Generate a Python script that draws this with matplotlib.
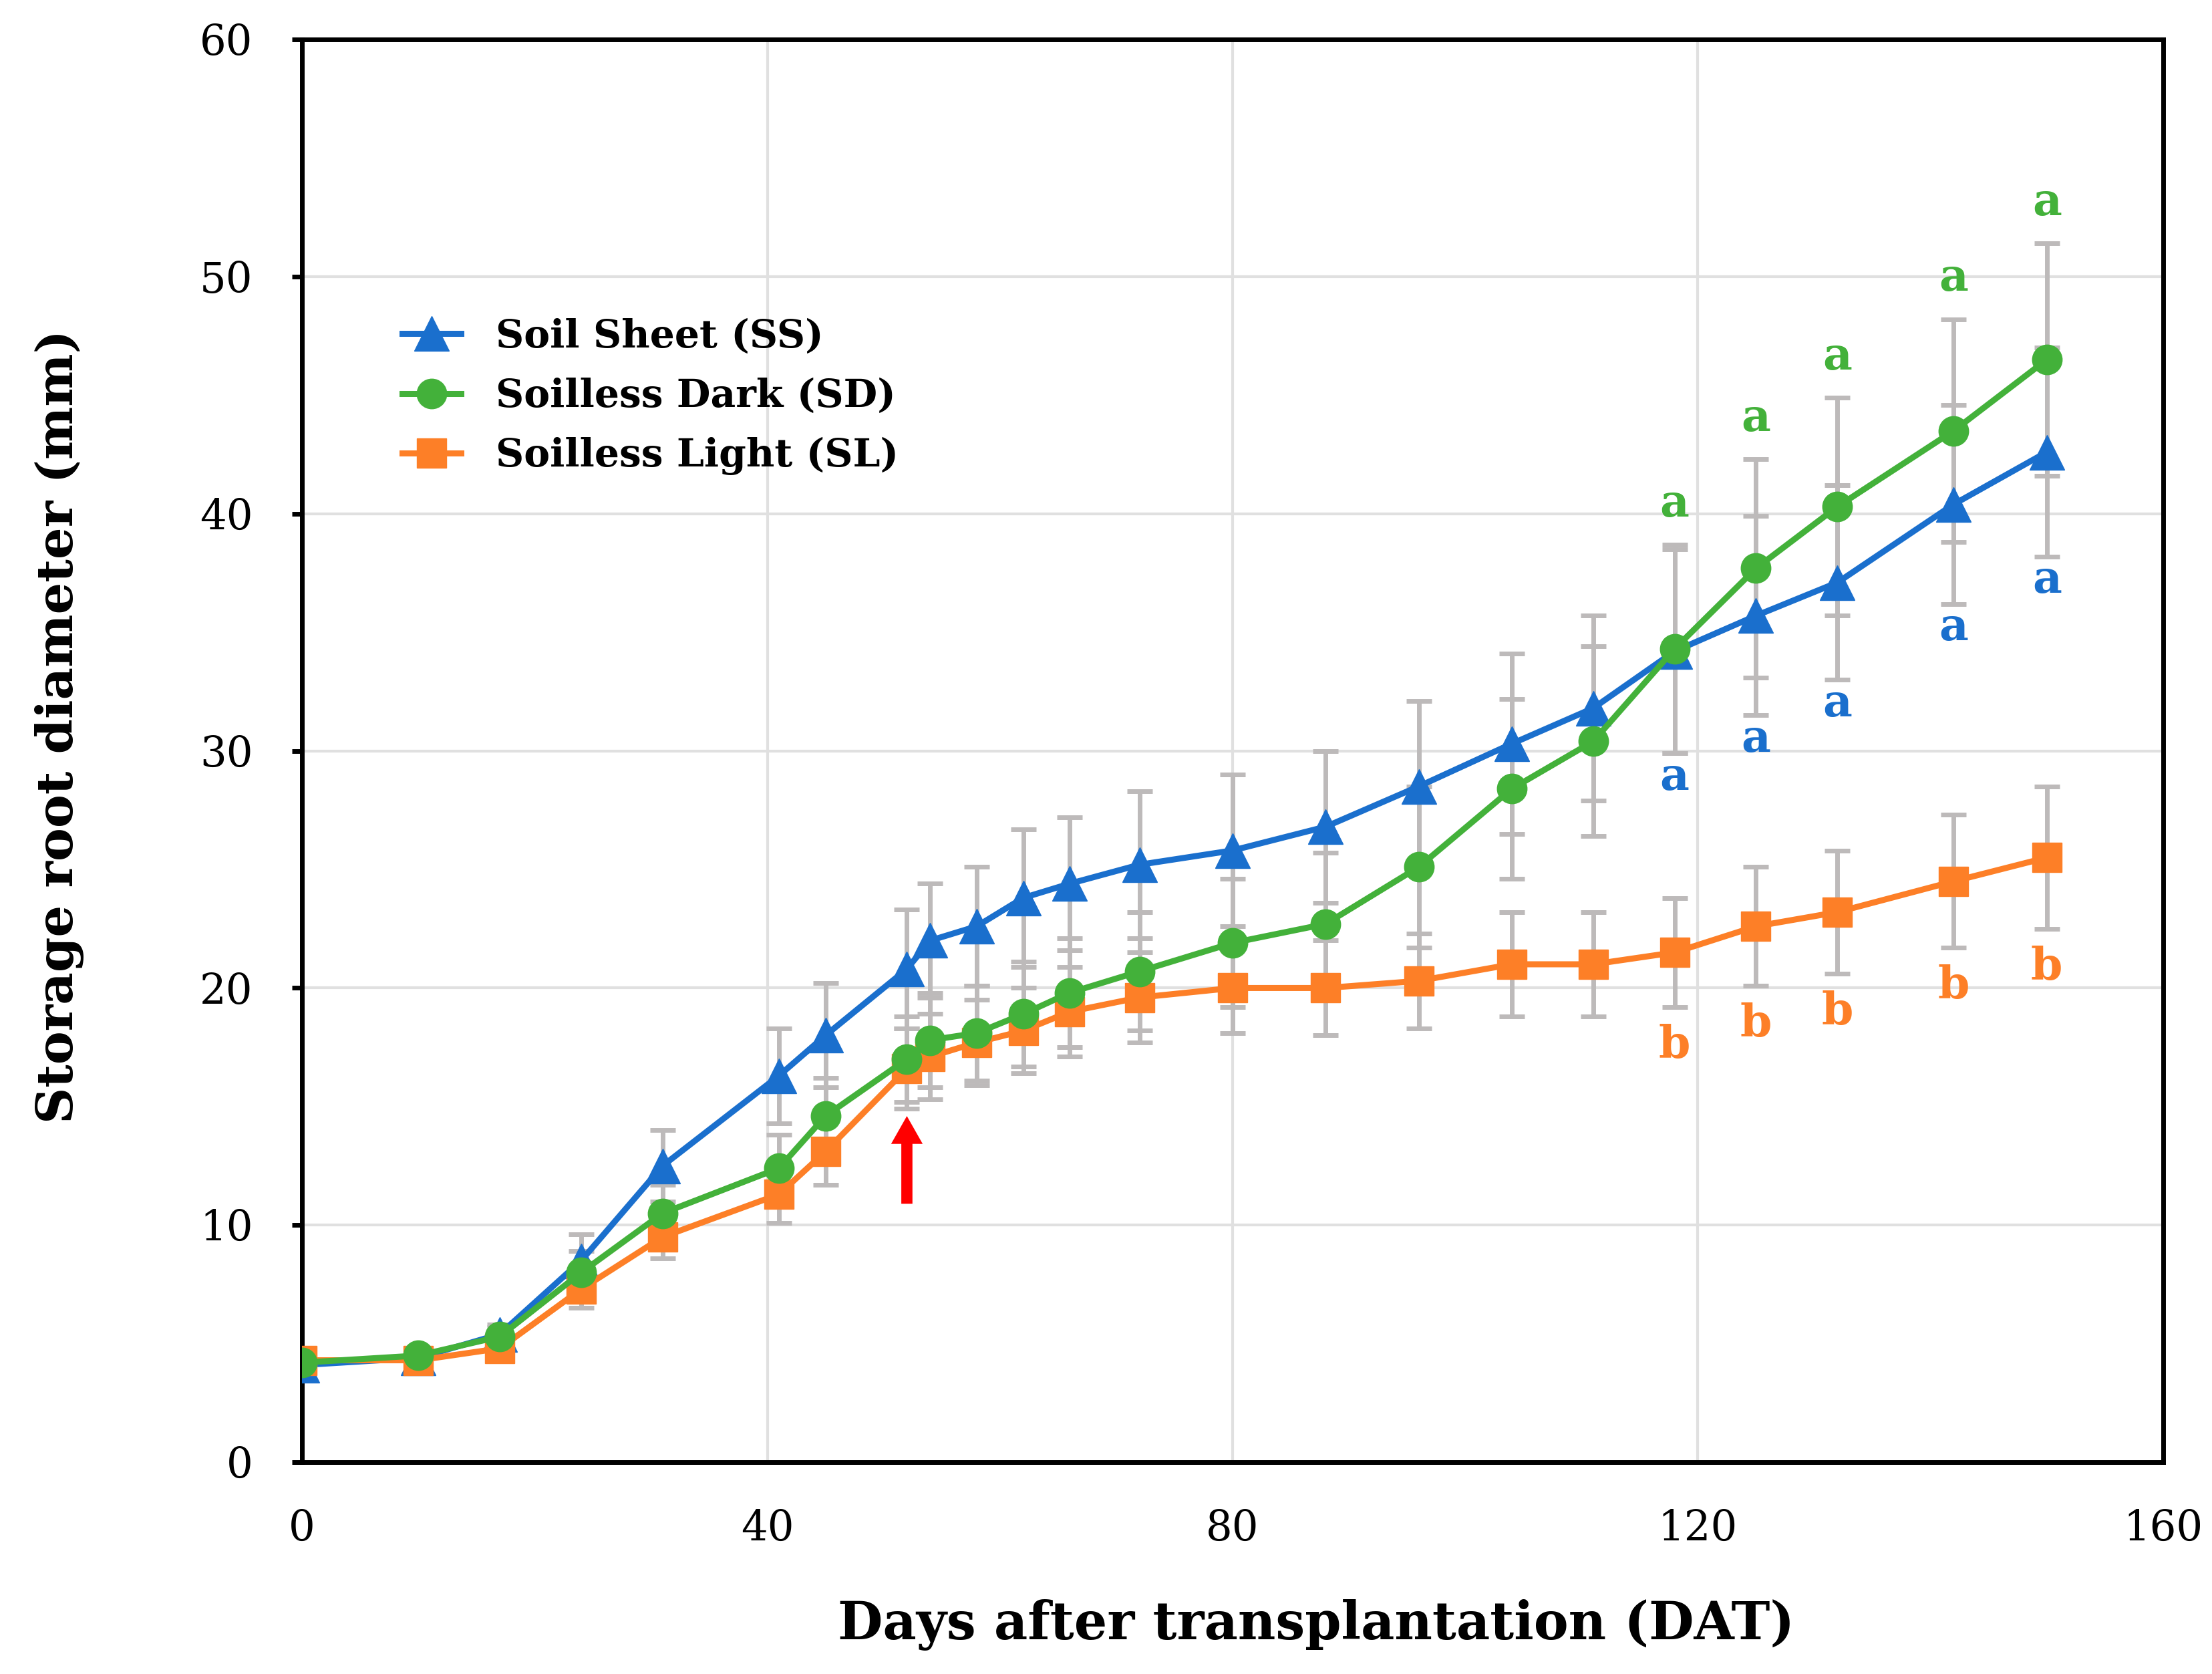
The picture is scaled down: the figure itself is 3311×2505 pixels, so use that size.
import numpy as np
import matplotlib
matplotlib.use("Agg")
import matplotlib.pyplot as plt

# days after transplantation
days = [0, 10, 17, 24, 31, 41, 45, 52, 54, 58, 62, 66, 72, 80, 88, 96, 104, 111, 118, 125, 132, 142, 150]

ss_mean = [4.1, 4.4, 5.4, 8.5, 12.5, 16.3, 18.0, 20.8, 22.0, 22.6, 23.8, 24.4, 25.2, 25.8, 26.8, 28.5,
           30.3, 31.8, 34.2, 35.7, 37.1, 40.4, 42.6]
ss_err = [0.3, 0.3, 0.4, 1.1, 1.5, 2.0, 2.2, 2.5, 2.4, 2.5, 2.9, 2.8, 3.1, 3.2, 3.2, 3.6,
          3.8, 3.9, 4.3, 4.2, 4.1, 4.2, 4.4]

sd_mean = [4.2, 4.5, 5.3, 8.0, 10.5, 12.4, 14.6, 17.0, 17.8, 18.1, 18.9, 19.8, 20.7, 21.9, 22.7, 25.1,
           28.4, 30.4, 34.3, 37.7, 40.3, 43.5, 46.5]
sd_err = [0.3, 0.3, 0.4, 0.9, 1.2, 1.4, 1.6, 1.8, 2.0, 2.0, 2.2, 2.3, 2.5, 2.7, 3.0, 3.4,
          3.8, 4.0, 4.4, 4.6, 4.6, 4.7, 4.9]

sl_mean = [4.3, 4.3, 4.8, 7.3, 9.5, 11.3, 13.1, 16.6, 17.1, 17.7, 18.2, 19.0, 19.6, 20.0, 20.0, 20.3,
           21.0, 21.0, 21.5, 22.6, 23.2, 24.5, 25.5]
sl_err = [0.3, 0.3, 0.4, 0.8, 0.9, 1.2, 1.4, 1.7, 1.8, 1.8, 1.8, 1.9, 1.9, 1.9, 2.0, 2.0,
          2.2, 2.2, 2.3, 2.5, 2.6, 2.8, 3.0]

# significance letters for the last five dates
letter_days = [118, 125, 132, 142, 150]
ss_letters = ["a", "a", "a", "a", "a"]
sd_letters = ["a", "a", "a", "a", "a"]
sl_letters = ["b", "b", "b", "b", "b"]

arrow_day = 52

blue = "#1A6FCD"
green = "#43B13A"
orange = "#FD7F27"
err_gray = "#BDBABA"

serif = ["DejaVu Serif"]

fig = plt.figure(figsize=(33.12, 25.05), dpi=100)
ax = fig.add_axes([0.1365, 0.1265, 0.8411, 0.8499])

ax.set_xlim(0, 160)
ax.set_ylim(0, 60)
ax.set_xticks([0, 40, 80, 120, 160])
ax.set_yticks(np.arange(0, 61, 10))
ax.grid(True, color="#E0E0E0", lw=3, zorder=0)
ax.set_axisbelow(True)

for sp in ax.spines.values():
    sp.set_linewidth(5)
    sp.set_color("black")
ax.tick_params(axis="y", direction="out", length=11, width=5, pad=42, labelsize=45)
ax.tick_params(axis="x", length=0, pad=50, labelsize=45)
for lab in ax.get_xticklabels() + ax.get_yticklabels():
    lab.set_family(serif)

# error bars first, underneath the lines
for mean, err in [(ss_mean, ss_err), (sd_mean, sd_err), (sl_mean, sl_err)]:
    ax.errorbar(days, mean, yerr=err, fmt="none", ecolor=err_gray, elinewidth=5,
                capsize=14, capthick=5, zorder=2)

ax.plot(days, ss_mean, color=blue, lw=6.5, marker="^", ms=37, label="Soil Sheet (SS)", zorder=3)
ax.plot(days, sl_mean, color=orange, lw=6.5, marker="s", ms=32, label="Soilless Light (SL)", zorder=4)
ax.plot(days, sd_mean, color=green, lw=6.5, marker="o", ms=32, label="Soilless Dark (SD)", zorder=5)

# letters
for i, d in enumerate(days):
    if d in letter_days:
        k = letter_days.index(d)
        ax.text(d, sd_mean[i] + sd_err[i] + 0.8, sd_letters[k], color=green, ha="center", va="bottom",
                fontsize=49, fontweight="bold", family=serif)
        ax.text(d, ss_mean[i] - ss_err[i] - 0.1, ss_letters[k], color=blue, ha="center", va="top",
                fontsize=49, fontweight="bold", family=serif)
        ax.text(d, sl_mean[i] - sl_err[i] - 0.7, sl_letters[k], color=orange, ha="center", va="top",
                fontsize=49, fontweight="bold", family=serif)

# red arrow under the 52 DAT point
ai = days.index(arrow_day)
ax.annotate("", xy=(arrow_day, sl_mean[ai] - sl_err[ai] - 0.3), xytext=(arrow_day, 10.9),
            arrowprops=dict(arrowstyle="simple,head_length=0.75,head_width=0.85,tail_width=0.3",
                            mutation_scale=40, color="red", lw=0, shrinkA=0, shrinkB=0), zorder=6)

handles, labels = ax.get_legend_handles_labels()
order = [0, 2, 1]
leg = ax.legend([handles[i] for i in order], [labels[i] for i in order], loc="upper left",
                bbox_to_anchor=(0.035, 0.829), frameon=False, handlelength=1.5,
                prop={"family": serif, "weight": "bold", "size": 42}, labelspacing=0.57,
                handletextpad=0.9)

ax.set_xlabel("Days after transplantation (DAT)", family=serif, fontweight="bold", fontsize=56)
ax.set_ylabel("Storage root diameter (mm)", family=serif, fontweight="bold", fontsize=54)
ax.xaxis.set_label_coords(0.545, -0.096)
ax.yaxis.set_label_coords(-0.117, 0.517)

fig.savefig("out.png", dpi=100, facecolor="white")
